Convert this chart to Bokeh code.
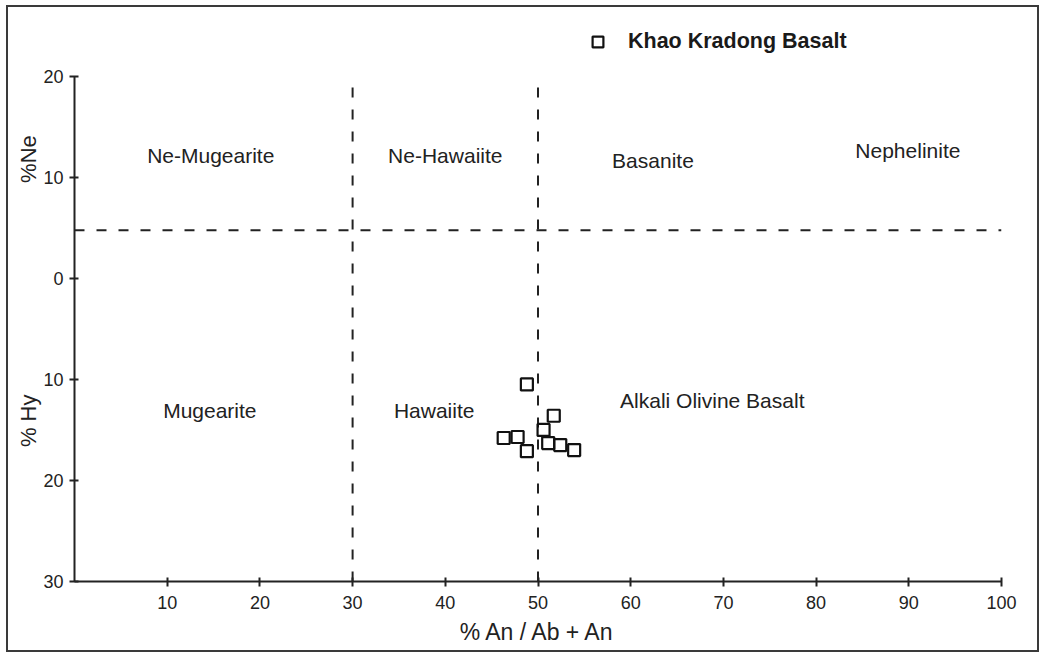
from bokeh.plotting import figure
from bokeh.models import Range1d, Legend, LegendItem, FixedTicker, LinearAxis
from bokeh.core.properties import value
from bokeh.embed import file_html
from bokeh.resources import INLINE

# ---- data ----
series_name = "Khao Kradong Basalt"
an_pct = [48.8, 51.7, 50.6, 46.3, 47.8, 51.1, 52.4, 53.9, 48.8]
ne_hy = [-10.5, -13.6, -15.0, -15.8, -15.7, -16.3, -16.5, -17.0, -17.1]

x_ticks = [10, 20, 30, 40, 50, 60, 70, 80, 90, 100]
y_ticks = [20, 10, 0, -10, -20, -30]
y_tick_labels = ["20", "10", "0", "10", "20", "30"]

field_names = ["Ne-Mugearite", "Ne-Hawaiite", "Basanite", "Nephelinite",
               "Mugearite", "Hawaiite", "Alkali Olivine Basalt"]
field_x = [14.7, 40.0, 62.4, 89.9, 14.6, 38.8, 68.8]
field_y = [12.2, 12.2, 11.7, 12.6, -13.1, -13.1, -12.1]

an_boundaries = [30, 50]
ne_boundary = 4.75

x_label = "% An / Ab + An"
side_labels = ["%Ne", "% Hy"]
side_label_y = [11.8, -14.1]

FONT = "Liberation Sans"
INK = "#222222"

p = figure(frame_width=927, frame_height=563,
           x_range=Range1d(0, 100), y_range=Range1d(-30, 25.71),
           min_border_left=66, min_border_right=36,
           min_border_top=11, min_border_bottom=69,
           output_backend="svg", toolbar_location=None,
           background_fill_color="white", border_fill_color="white")
p.margin = (5, 0, 0, 6)
p.styles = {"border": "2px solid #3a3a3a"}
p.outline_line_color = None
p.xgrid.visible = False
p.ygrid.visible = False

# axes
for ax in (p.xaxis[0], p.yaxis[0]):
    ax.axis_line_width = 2
    ax.axis_line_color = INK
    ax.major_tick_line_width = 2
    ax.major_tick_line_color = INK
    ax.minor_tick_line_color = None
    ax.major_label_text_font = FONT
    ax.major_label_text_font_size = "18px"
    ax.major_label_text_color = INK
    ax.major_tick_in = 4
    ax.major_tick_out = 5

p.xaxis.ticker = FixedTicker(ticks=x_ticks)
p.xaxis.bounds = (0, 100)
p.xaxis.major_label_standoff = 9
p.xaxis.axis_label = x_label
p.xaxis.axis_label_text_font = FONT
p.xaxis.axis_label_text_font_size = "23px"
p.xaxis.axis_label_text_font_style = "normal"
p.xaxis.axis_label_text_color = INK
p.xaxis.axis_label_standoff = 7

p.yaxis.ticker = FixedTicker(ticks=y_ticks)
p.yaxis.major_label_overrides = {t: lab for t, lab in zip(y_ticks, y_tick_labels)}
p.yaxis.bounds = (-30, 20)
p.yaxis.major_label_standoff = 6

# outer axis carrying the two side titles (%Ne above, % Hy below)
side_axis = LinearAxis(ticker=FixedTicker(ticks=side_label_y),
                       major_label_overrides=dict(zip(side_label_y, side_labels)),
                       axis_line_color=None, major_tick_line_color=None,
                       minor_tick_line_color=None,
                       major_label_orientation="vertical",
                       major_label_standoff=-7,
                       major_label_text_font=FONT,
                       major_label_text_font_size="22px",
                       major_label_text_color=INK)
p.add_layout(side_axis, "left")

# field boundaries
p.segment(x0=an_boundaries, y0=[-30] * len(an_boundaries),
          x1=an_boundaries, y1=[20] * len(an_boundaries),
          line_color=INK, line_width=2, line_dash="10 12")
p.segment(x0=[0], y0=[ne_boundary], x1=[100], y1=[ne_boundary],
          line_color=INK, line_width=2, line_dash="10 12")

# field names
p.text(x=field_x, y=field_y, text=field_names,
       text_font=value(FONT), text_font_size="21px", text_color=INK,
       text_align="center", text_baseline="middle")

# samples
r = p.scatter(an_pct, ne_hy, marker="square", size=12,
              fill_color=None, line_color="#111111", line_width=2.2)

legend = Legend(items=[LegendItem(label=series_name, renderers=[r])],
                location=(510, 526), orientation="vertical",
                padding=0, margin=0, spacing=0,
                glyph_width=27, glyph_height=27, label_standoff=17,
                label_text_font=FONT, label_text_font_size="21.5px",
                label_text_font_style="bold", label_text_color="#1a1a1a",
                background_fill_alpha=0, border_line_color=None)
p.add_layout(legend, "center")

open("out.html", "w").write(file_html(p, INLINE))
